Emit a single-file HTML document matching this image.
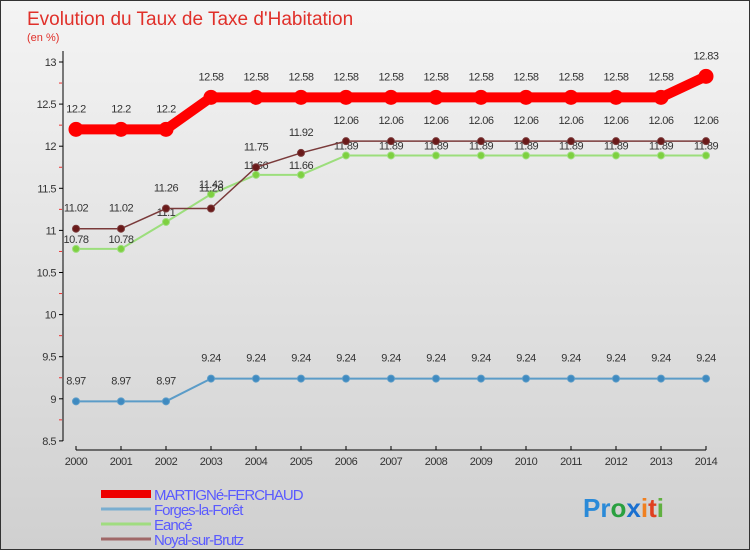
<!DOCTYPE html>
<html><head><meta charset="utf-8"><style>
body{margin:0;}
#wrap{width:750px;height:550px;position:relative;background:linear-gradient(#f4f4f4,#d0d0d0);font-family:"Liberation Sans","DejaVu Sans",sans-serif;overflow:hidden;box-sizing:border-box;border:1px solid #333;}
svg{position:absolute;left:0;top:0}
</style></head><body>
<div id="wrap">
<svg id="chart" width="750" height="550">
<text x="26" y="24" font-size="19" fill="#e0302a">Evolution du Taux de Taxe d'Habitation</text>
<text x="26" y="40" font-size="11" fill="#e0302a">(en %)</text>
</svg>
</div>
<script>
const years=[2000,2001,2002,2003,2004,2005,2006,2007,2008,2009,2010,2011,2012,2013,2014];
const martigne=[12.2,12.2,12.2,12.58,12.58,12.58,12.58,12.58,12.58,12.58,12.58,12.58,12.58,12.58,12.83];
const forges=[8.97,8.97,8.97,9.24,9.24,9.24,9.24,9.24,9.24,9.24,9.24,9.24,9.24,9.24,9.24];
const eance=[10.78,10.78,11.1,11.43,11.66,11.66,11.89,11.89,11.89,11.89,11.89,11.89,11.89,11.89,11.89];
const noyal=[11.02,11.02,11.26,11.26,11.75,11.92,12.06,12.06,12.06,12.06,12.06,12.06,12.06,12.06,12.06];
const yTicks=[8.5,9,9.5,10,10.5,11,11.5,12,12.5,13];
const NS='http://www.w3.org/2000/svg';
const svg=document.getElementById('chart');
const x=i=>75+i*45;
const y=v=>61+(13-v)*84.2;
function el(t,a,txt){const e=document.createElementNS(NS,t);for(const k in a)e.setAttribute(k,a[k]);if(txt!==undefined)e.textContent=txt;svg.appendChild(e);return e;}
let a=el('line',{x1:62,y1:50,x2:62,y2:440,stroke:'#000'});


a=el('line',{x1:75,y1:449,x2:705,y2:449,stroke:'#000'});


yTicks.forEach(v=>{
  el('line',{x1:58,y1:y(v),x2:62,y2:y(v),stroke:'#000'});
  if(v>8.5) el('line',{x1:58,y1:y(v-0.25),x2:61,y2:y(v-0.25),stroke:'#e33'});
  const t=el('text',{x:55,y:y(v)+4,'font-size':11,fill:'#333','text-anchor':'end','letter-spacing':'-0.5'},String(v));
  
  
});
years.forEach((yr,i)=>{
  el('line',{x1:x(i),y1:445,x2:x(i),y2:449,stroke:'#000'});
  const t=el('text',{x:x(i),y:464,'font-size':11,fill:'#333','text-anchor':'middle','letter-spacing':'-0.5'},String(yr));
  
  
});
function series(data,color,w,r,dot,name,lblOff){
  const p=el('polyline',{points:data.map((v,i)=>x(i)+','+y(v)).join(' '),fill:'none',stroke:color,'stroke-width':w});
  
  
  data.forEach((v,i)=>{
    const c=el('circle',{cx:x(i),cy:y(v),r:r,fill:dot,stroke:color,'stroke-width':1});
    
    
    const t=el('text',{x:x(i),y:y(v)+lblOff,'font-size':11,fill:'#333','text-anchor':'middle','letter-spacing':'-0.5'},String(v));
    
    
  });
}
series(forges,'#5b9cc8',2,3.5,'#3f8ac0','forges',-17);
series(eance,'#9cde7c',2,3.5,'#7ed040','eance',-6);
series(noyal,'#7a3a3a',1.5,3.5,'#6a1a1a','noyal',-17);
series(martigne,'#ff0000',10,7,'#ff0000','martigne',-17);
const leg=[['MARTIGNé-FERCHAUD','#e00',8],['Forges-la-Forêt','#7aaed0',3],['Eancé','#a0dc80',3],['Noyal-sur-Brutz','#a06868',3]];
leg.forEach((l,i)=>{
  const yy=493+i*15;
  const ln=el('line',{x1:100,y1:yy,x2:150,y2:yy,stroke:l[1],'stroke-width':l[2]});
  
  
  const t=el('text',{x:153,y:yy+6,'font-size':15,fill:'#5a5aff','letter-spacing':'-1'},l[0]);
  
  
});
const logo=el('text',{x:582,y:516,'font-size':26,'font-weight':'bold'});


[['P','#2a8ad8'],['r','#2a8ad8'],['o','#2aa040'],['x','#1a70d0'],['i','#f08020'],['t','#e04020'],['i','#60b040']].forEach(c=>{const s=document.createElementNS(NS,'tspan');s.setAttribute('fill',c[1]);s.textContent=c[0];logo.appendChild(s);});
</script>
</body></html>
